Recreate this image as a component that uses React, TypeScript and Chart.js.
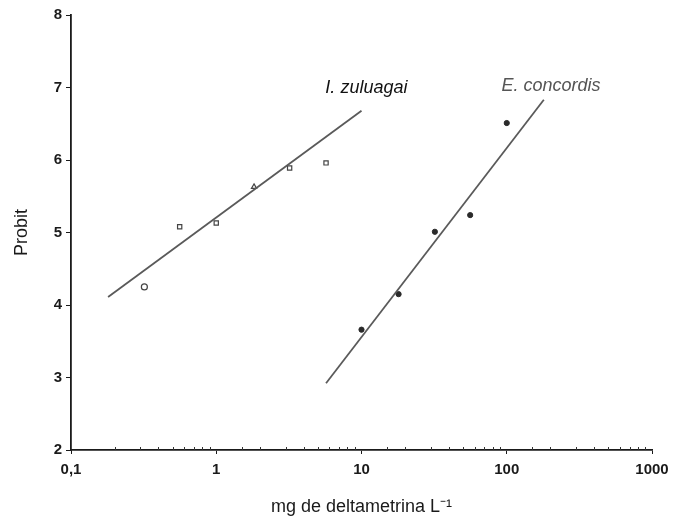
import React, { useEffect, useRef } from 'react';
import { Chart, registerables } from 'chart.js';

Chart.register(...registerables);

// ---- data ----
const xMin = 0.1;
const xMax = 1000;
const yMin = 2;
const yMax = 8;

const izDose = [0.32, 0.56, 1.0, 1.82, 3.2, 5.7];
const izProbit = [4.25, 5.08, 5.13, 5.63, 5.89, 5.96];
const izMarkers = ['circle', 'rect', 'rect', 'triangle', 'rect', 'rect'];

const ecDose = [10, 18, 32, 56, 100];
const ecProbit = [3.66, 4.15, 5.01, 5.24, 6.51];

const izFitDose = [0.18, 10];
const izFitProbit = [4.11, 6.68];
const ecFitDose = [5.7, 180];
const ecFitProbit = [2.92, 6.83];

const seriesLabels = ['I. zuluagai', 'E. concordis'];
const seriesLabelDose = [5.64, 92];
const seriesLabelProbit = [6.92, 6.95];
const seriesLabelColors = ['#111111', '#555555'];

const xTitle = 'mg de deltametrina L\u207B\u00B9';
const yTitle = 'Probit';

const FONT = '"Liberation Sans", Arial, Helvetica, sans-serif';

const isDecade = (v: number) => {
  const l = Math.log10(v);
  return Math.abs(l - Math.round(l)) < 1e-6;
};

const pts = (xs: number[], ys: number[]) => xs.map((x, i) => ({ x, y: ys[i] }));

const minorTicksPlugin = {
  id: 'minorTicks',
  afterDraw(chart: any) {
    const xs = chart.scales.x;
    const ctx = chart.ctx;
    ctx.save();
    ctx.strokeStyle = '#333';
    ctx.lineWidth = 1;
    xs.ticks.forEach((t: any) => {
      if (isDecade(t.value)) return;
      const px = Math.round(xs.getPixelForValue(t.value)) + 0.5;
      ctx.beginPath();
      ctx.moveTo(px, xs.top);
      ctx.lineTo(px, xs.top - 3);
      ctx.stroke();
    });
    ctx.restore();
  },
};

const seriesLabelPlugin = {
  id: 'seriesLabels',
  afterDatasetsDraw(chart: any) {
    const { ctx, scales } = chart;
    ctx.save();
    ctx.font = `italic 18px ${FONT}`;
    ctx.textBaseline = 'alphabetic';
    ctx.textAlign = 'left';
    seriesLabels.forEach((s, i) => {
      ctx.fillStyle = seriesLabelColors[i];
      ctx.fillText(
        s,
        scales.x.getPixelForValue(seriesLabelDose[i]),
        scales.y.getPixelForValue(seriesLabelProbit[i])
      );
    });
    ctx.restore();
  },
};

export default function App() {
  const ref = useRef<HTMLCanvasElement | null>(null);

  useEffect(() => {
    if (!ref.current) return;
    Chart.defaults.font.family = FONT;
    const chart = new Chart(ref.current, {
      type: 'scatter',
      data: {
        datasets: [
          {
            label: 'I. zuluagai fit',
            data: pts(izFitDose, izFitProbit),
            showLine: true,
            borderColor: '#5a5a5a',
            borderWidth: 1.8,
            pointRadius: 0,
            fill: false,
          },
          {
            label: 'E. concordis fit',
            data: pts(ecFitDose, ecFitProbit),
            showLine: true,
            borderColor: '#5a5a5a',
            borderWidth: 1.8,
            pointRadius: 0,
            fill: false,
          },
          {
            label: 'I. zuluagai',
            data: pts(izDose, izProbit),
            pointStyle: izMarkers as any,
            pointRadius: 3,
            backgroundColor: '#ffffff',
            borderColor: '#444444',
            borderWidth: 1.2,
          },
          {
            label: 'E. concordis',
            data: pts(ecDose, ecProbit),
            pointStyle: 'circle',
            pointRadius: 2.6,
            backgroundColor: '#2a2a2a',
            borderColor: '#2a2a2a',
            borderWidth: 1,
          },
        ],
      },
      options: {
        animation: false,
        responsive: false,
        layout: { padding: { top: 15, right: 32, left: 0, bottom: 0 } },
        plugins: {
          legend: { display: false },
          tooltip: { enabled: false },
        },
        scales: {
          x: {
            type: 'logarithmic',
            min: xMin,
            max: xMax,
            afterFit: (s: any) => {
              s.height = 69;
            },
            border: { display: true, color: '#1a1a1a', width: 1.8 },
            grid: {
              drawOnChartArea: false,
              drawTicks: true,
              tickLength: 4,
              color: (c: any) => (c.tick && isDecade(c.tick.value) ? '#1a1a1a' : 'rgba(0,0,0,0)'),
            },
            ticks: {
              autoSkip: false,
              maxRotation: 0,
              padding: 7,
              color: '#1a1a1a',
              font: { size: 15, weight: 'bold' },
              callback: (v: any) => {
                const n = Number(v);
                return isDecade(n) ? String(n).replace('.', ',') : '';
              },
            },
            title: {
              display: true,
              text: xTitle,
              color: '#1a1a1a',
              font: { size: 18 },
              padding: { top: 0, bottom: 1 },
            },
          },
          y: {
            type: 'linear',
            min: yMin,
            max: yMax,
            afterFit: (s: any) => {
              s.width = 71;
            },
            border: { display: true, color: '#1a1a1a', width: 1.8 },
            grid: {
              drawOnChartArea: false,
              drawTicks: true,
              tickLength: 5,
              color: '#1a1a1a',
            },
            ticks: {
              stepSize: 1,
              padding: 4,
              color: '#1a1a1a',
              font: { size: 15, weight: 'bold' },
            },
            title: {
              display: true,
              text: yTitle,
              color: '#1a1a1a',
              font: { size: 18 },
              padding: { top: 11, bottom: 0 },
            },
          },
        },
      },
      plugins: [minorTicksPlugin, seriesLabelPlugin],
    });
    return () => chart.destroy();
  }, []);

  return (
    <div style={{ position: 'absolute', left: 0, top: 0, width: 684, height: 519, background: '#fff' }}>
      <canvas ref={ref} width={684} height={519} style={{ display: 'block' }} />
    </div>
  );
}
